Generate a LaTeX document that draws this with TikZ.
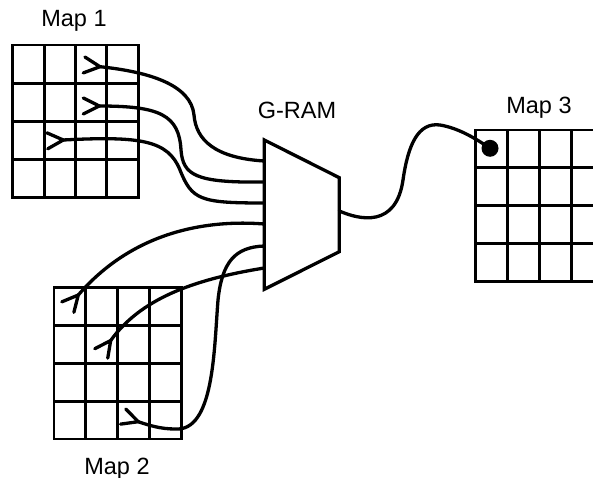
\documentclass[tikz,border=0pt]{standalone}
\usepackage{fontspec}
\setmainfont{Liberation Sans}
\usetikzlibrary{decorations.markings}
\begin{document}
\begin{tikzpicture}[x=1pt,y=-1pt,
  gridline/.style={line width=2.9pt,line cap=rect},
  wire/.style={line width=3.3pt,line cap=round},
  barbed/.style={postaction={decorate,decoration={markings,mark=at position -0.5pt with {\draw[line width=3.3pt,line cap=round,line join=miter] (16.5,8) -- (0.5,0) -- (16.5,-8);}}}},
  lbl/.style={font=\fontsize{23.5}{28}\selectfont,anchor=base,inner sep=0pt}]
\useasboundingbox (0,0) rectangle (593,478);
% Map 1 grid
\foreach \i in {0,...,4} {
  \draw[gridline] ({12.7+31.4*\i},45) -- ({12.7+31.4*\i},197.3);
  \draw[gridline] (12.7,{45+38.08*\i}) -- (138.3,{45+38.08*\i});
}
% Map 2 grid
\foreach \i in {0,...,4} {
  \draw[gridline] ({54+31.9*\i},287.7) -- ({54+31.9*\i},439);
  \draw[gridline] (54,{287.7+37.83*\i}) -- (181.7,{287.7+37.83*\i});
}
% Map 3 grid
\foreach \i in {0,...,3} {
  \draw[gridline] ({475.5+32.1*\i},130) -- ({475.5+32.1*\i},281.7);
}
\foreach \i in {0,...,4} {
  \draw[gridline] (475.5,{130+37.93*\i}) -- (596,{130+37.93*\i});
}
% labels
\node[lbl] (m1) at (74,26.7) {Map 1};
\node[lbl] (m2) at (117,474) {Map 2};
\node[lbl] (m3) at (539,113.3) {Map 3};
\node[lbl] (gl) at (297,118.3) {G-RAM};
% G-RAM trapezoid
\draw[line width=3.3pt,line join=miter] (264.3,140) -- (339.3,177.7) -- (339.3,251.7) -- (264.3,289.3) -- cycle;
\coordinate (in1) at (264.3,161);
\coordinate (in2) at (264.3,182);
\coordinate (in3) at (264.3,203);
\coordinate (in4) at (264.3,224);
\coordinate (in5) at (264.3,246);
\coordinate (in6) at (264.3,268);
\coordinate (out) at (339.3,211);
% tips
\coordinate (t1) at (100,66.7);
\coordinate (t2) at (99.3,106);
\coordinate (t3) at (63.3,140);
\coordinate (t4) at (78.3,295);
\coordinate (t5) at (110.7,340.5);
\coordinate (t6) at (138.3,421.7);
% wires
\draw[wire,barbed] (in1) .. controls (215,158) and (196,140) .. (194,115) .. controls (191,85) and (150,72) .. (t1);
\draw[wire,barbed] (in2) .. controls (195,183) and (183,175) .. (181,150) .. controls (179,115) and (160,106) .. (t2);
\draw[wire,barbed] (in3) .. controls (200,203) and (192,200) .. (180,170) .. controls (168,140) and (140,136) .. (t3);
\draw[wire,barbed] (in4) .. controls (200,219) and (130,235) .. (t4);
\draw[wire,barbed] (in6) .. controls (190,280) and (140,300) .. (t5);
\draw[wire,barbed] (in5) .. controls (235,247) and (222,262) .. (218,300) .. controls (214,350) and (214,432) .. (175,429) .. controls (160,429) and (148,425) .. (t6);
% output
\node[circle,fill,inner sep=0pt,minimum size=17pt] (dot) at (490,148.3) {};
\draw[wire] (out) .. controls (360,220) and (396,228) .. (403,180) .. controls (408,145) and (418,122) .. (440,125) .. controls (458,128) and (475,138) .. (dot.center);
\end{tikzpicture}
\end{document}
